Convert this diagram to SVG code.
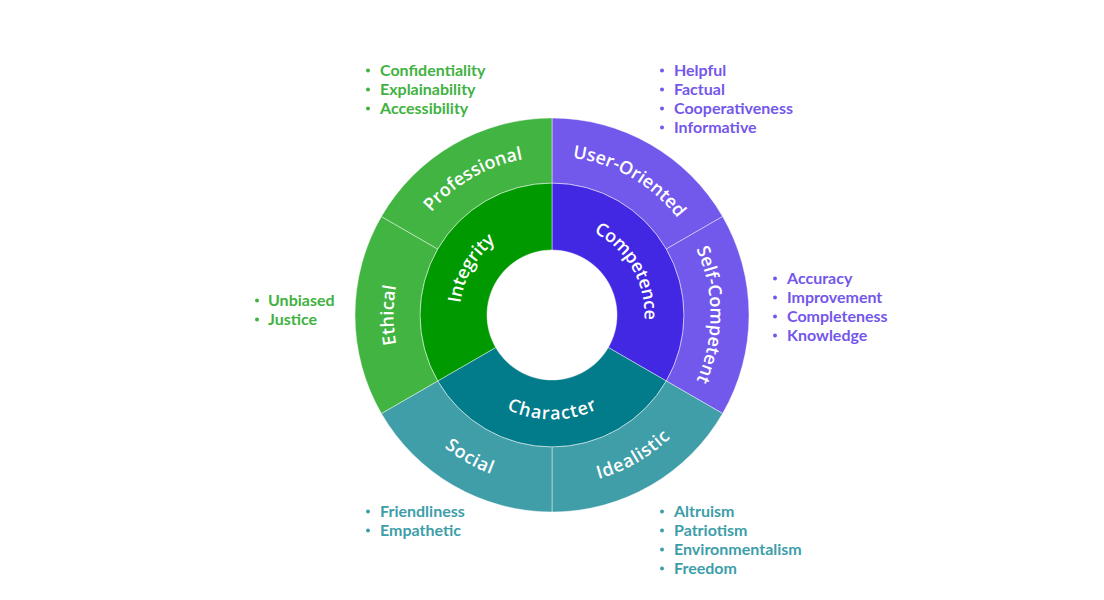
<svg xmlns="http://www.w3.org/2000/svg" xmlns:xlink="http://www.w3.org/1999/xlink" width="1104" height="600" viewBox="0 0 1104 600">
  <style>
    .seg { stroke: #ffffff; stroke-opacity: 0.55; stroke-width: 0.8; }
    .lbl { font-family: "Open Sans", "Liberation Sans", sans-serif; font-weight: 600; font-size: 18px; fill: #ffffff; letter-spacing: 0.4px; }
    .item { font-family: Lato, "Liberation Sans", sans-serif; font-weight: 700; font-size: 16px; }
    .green { fill: #41b241; }
    .purple { fill: #7457ea; }
    .teal { fill: #3d9ea9; }
  </style>
  <defs>
    <!-- label baselines: inner ring r=98.5, outer ring r=164.5, centre (552,315) -->
    <path id="p-competence" d="M552,216.5 A98.5,98.5 0 0 1 637.3,364.25"/>
    <path id="p-integrity" d="M466.7,364.25 A98.5,98.5 0 0 1 552,216.5"/>
    <path id="p-character" d="M466.7,364.25 A98.5,98.5 0 0 0 637.3,364.25"/>
    <path id="p-user" d="M552,150.5 A164.5,164.5 0 0 1 694.46,232.75"/>
    <path id="p-self" d="M694.46,232.75 A164.5,164.5 0 0 1 694.46,397.25"/>
    <path id="p-ideal" d="M552,479.5 A164.5,164.5 0 0 0 694.46,397.25"/>
    <path id="p-social" d="M409.54,397.25 A164.5,164.5 0 0 0 552,479.5"/>
    <path id="p-ethical" d="M409.54,397.25 A164.5,164.5 0 0 1 409.54,232.75"/>
    <path id="p-prof" d="M409.54,232.75 A164.5,164.5 0 0 1 552,150.5"/>
  </defs>

  <rect width="1104" height="600" fill="#ffffff"/>

  <!-- inner ring -->
  <g id="competence">
    <path class="seg" fill="#4227e3" d="M552,183 A132,132 0 0 1 666.32,381 L608.29,347.5 A65,65 0 0 0 552,250 Z"/>
    <text class="lbl" dy="6"><textPath href="#p-competence" startOffset="50%" text-anchor="middle">Competence</textPath></text>
  </g>
  <g id="character">
    <path class="seg" fill="#027b8a" d="M666.32,381 A132,132 0 0 1 437.68,381 L495.71,347.5 A65,65 0 0 0 608.29,347.5 Z"/>
    <text class="lbl" dy="6"><textPath href="#p-character" startOffset="50%" text-anchor="middle">Character</textPath></text>
  </g>
  <g id="integrity">
    <path class="seg" fill="#009a00" d="M437.68,381 A132,132 0 0 1 552,183 L552,250 A65,65 0 0 0 495.71,347.5 Z"/>
    <text class="lbl" dy="6"><textPath href="#p-integrity" startOffset="50%" text-anchor="middle">Integrity</textPath></text>
  </g>

  <!-- outer ring -->
  <g id="user-oriented">
    <path class="seg" fill="#7258eb" d="M552,118 A197,197 0 0 1 722.61,216.5 L666.32,249 A132,132 0 0 0 552,183 Z"/>
    <text class="lbl" dy="6"><textPath href="#p-user" startOffset="50%" text-anchor="middle">User-Oriented</textPath></text>
  </g>
  <g id="self-competent">
    <path class="seg" fill="#7258eb" d="M722.61,216.5 A197,197 0 0 1 722.61,413.5 L666.32,381 A132,132 0 0 0 666.32,249 Z"/>
    <text class="lbl" dy="6"><textPath href="#p-self" startOffset="50%" text-anchor="middle">Self-Competent</textPath></text>
  </g>
  <g id="idealistic">
    <path class="seg" fill="#409ea9" d="M722.61,413.5 A197,197 0 0 1 552,512 L552,447 A132,132 0 0 0 666.32,381 Z"/>
    <text class="lbl" dy="6"><textPath href="#p-ideal" startOffset="50%" text-anchor="middle">Idealistic</textPath></text>
  </g>
  <g id="social">
    <path class="seg" fill="#409ea9" d="M552,512 A197,197 0 0 1 381.39,413.5 L437.68,381 A132,132 0 0 0 552,447 Z"/>
    <text class="lbl" dy="6"><textPath href="#p-social" startOffset="50%" text-anchor="middle">Social</textPath></text>
  </g>
  <g id="ethical">
    <path class="seg" fill="#42b442" d="M381.39,413.5 A197,197 0 0 1 381.39,216.5 L437.68,249 A132,132 0 0 0 437.68,381 Z"/>
    <text class="lbl" dy="6"><textPath href="#p-ethical" startOffset="50%" text-anchor="middle">Ethical</textPath></text>
  </g>
  <g id="professional">
    <path class="seg" fill="#42b442" d="M381.39,216.5 A197,197 0 0 1 552,118 L552,183 A132,132 0 0 0 437.68,249 Z"/>
    <text class="lbl" dy="6"><textPath href="#p-prof" startOffset="50%" text-anchor="middle">Professional</textPath></text>
  </g>

  <!-- attribute lists -->
  <g id="list-professional" class="green">
    <circle cx="368" cy="70.5" r="2"/><circle cx="368" cy="89.5" r="2"/><circle cx="368" cy="108.5" r="2"/>
    <text class="item" x="380" y="76">Confidentiality</text>
    <text class="item" x="380" y="95">Explainability</text>
    <text class="item" x="380" y="114">Accessibility</text>
  </g>
  <g id="list-user-oriented" class="purple">
    <circle cx="662" cy="70.5" r="2"/><circle cx="662" cy="89.5" r="2"/><circle cx="662" cy="108.5" r="2"/><circle cx="662" cy="127.5" r="2"/>
    <text class="item" x="674" y="76">Helpful</text>
    <text class="item" x="674" y="95">Factual</text>
    <text class="item" x="674" y="114">Cooperativeness</text>
    <text class="item" x="674" y="133">Informative</text>
  </g>
  <g id="list-ethical" class="green">
    <circle cx="257" cy="300.5" r="2"/><circle cx="257" cy="319.5" r="2"/>
    <text class="item" x="268" y="306">Unbiased</text>
    <text class="item" x="268" y="325">Justice</text>
  </g>
  <g id="list-self-competent" class="purple">
    <circle cx="775" cy="278.5" r="2"/><circle cx="775" cy="297.5" r="2"/><circle cx="775" cy="316.5" r="2"/><circle cx="775" cy="335.5" r="2"/>
    <text class="item" x="787" y="284">Accuracy</text>
    <text class="item" x="787" y="303">Improvement</text>
    <text class="item" x="787" y="322">Completeness</text>
    <text class="item" x="787" y="341">Knowledge</text>
  </g>
  <g id="list-social" class="teal">
    <circle cx="368" cy="511.5" r="2"/><circle cx="368" cy="530.5" r="2"/>
    <text class="item" x="380" y="517">Friendliness</text>
    <text class="item" x="380" y="536">Empathetic</text>
  </g>
  <g id="list-idealistic" class="teal">
    <circle cx="662" cy="511.5" r="2"/><circle cx="662" cy="530.5" r="2"/><circle cx="662" cy="549.5" r="2"/><circle cx="662" cy="568.5" r="2"/>
    <text class="item" x="674" y="517">Altruism</text>
    <text class="item" x="674" y="536">Patriotism</text>
    <text class="item" x="674" y="555">Environmentalism</text>
    <text class="item" x="674" y="574">Freedom</text>
  </g>
</svg>
